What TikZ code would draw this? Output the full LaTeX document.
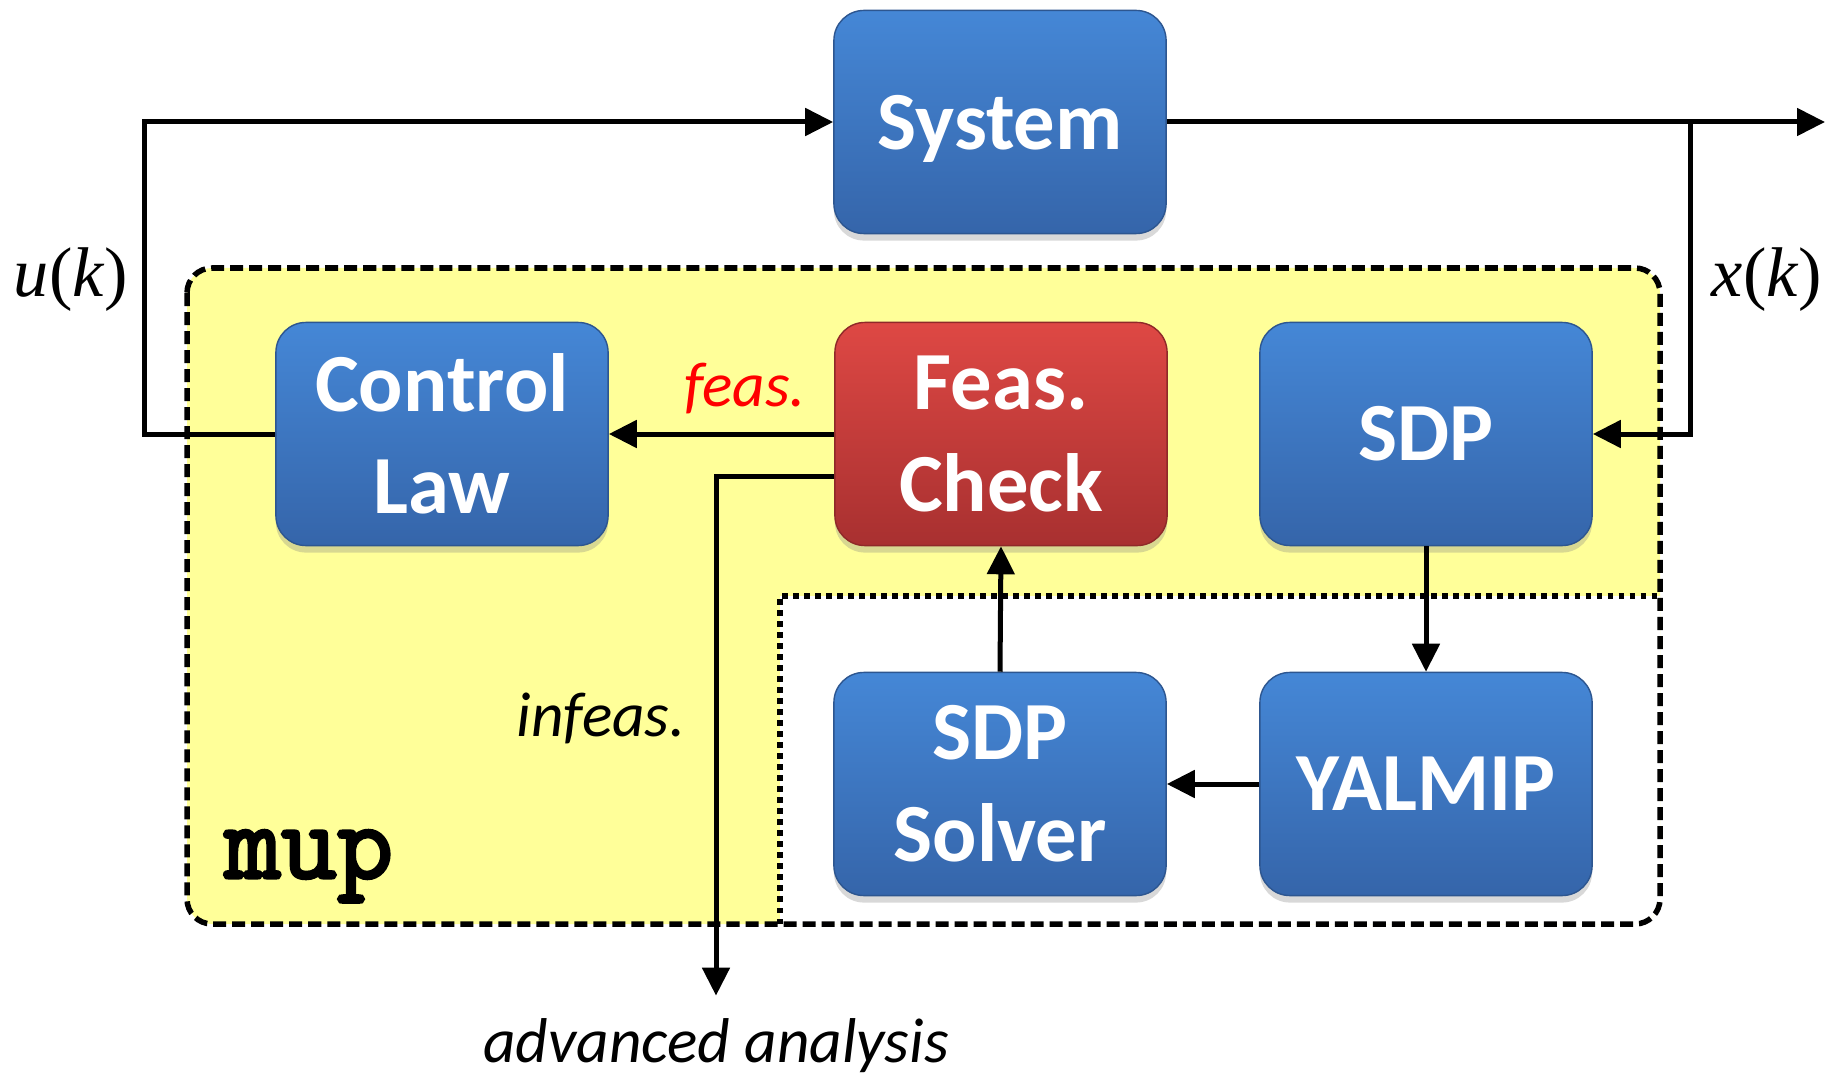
\documentclass[tikz,border=0pt]{standalone}
\usepackage{fontspec}
\setmainfont{Carlito}
\newfontfamily\timesfont{Liberation Serif}
\newfontfamily\mupfont{Latin Modern Mono}[FakeBold=3]
\usetikzlibrary{arrows.meta, positioning, shadows}

\definecolor{boxblueA}{RGB}{69,135,214}
\definecolor{boxblueB}{RGB}{53,101,170}
\definecolor{boxredA}{RGB}{222,72,68}
\definecolor{boxredB}{RGB}{168,48,48}
\definecolor{mupyellow}{RGB}{255,255,153}

\begin{document}
\begin{tikzpicture}[x=0.01cm,y=-0.01cm,
    blk/.style={rectangle, rounded corners=0.3cm, minimum width=3.32cm, minimum height=2.23cm,
        align=center, text=white, font=\fontsize{23.5}{29}\selectfont\bfseries,
        top color=boxblueA, bottom color=boxblueB, draw=boxblueB!85!black, line width=0.4pt,
        drop shadow={opacity=0.3, shadow xshift=0pt, shadow yshift=-0.07cm}},
    redblk/.style={blk, top color=boxredA, bottom color=boxredB, draw=boxredB!85!black},
    arr/.style={-{Triangle[length=0.28cm,width=0.27cm]}, line width=0.05cm},
    lbl/.style={font=\fontsize{18}{22}\selectfont\itshape}]
    \useasboundingbox (0,0) rectangle (1830,1073);
    \fill[mupyellow, rounded corners=0.25cm] (187,268) rectangle (1660,924);
    \begin{scope}
        \clip[rounded corners=0.25cm] (187,268) rectangle (1660,924);
        \fill[white] (780,596) rectangle (1660,924);
    \end{scope}
    \draw[line width=0.055cm, dash pattern=on 0.055cm off 0.055cm] (780,924) -- (780,596) -- (1660,596);
    \draw[line width=0.055cm, dash pattern=on 0.13cm off 0.06cm, rounded corners=0.25cm] (187,268) rectangle (1660,924);

    \node[blk, text depth=0pt] (sys) at (1000,122) {System};
    \node[blk] (ctrl) at (442,434) {Control\\Law};
    \node[redblk] (feas) at (1001,434) {Feas.\\Check};
    \node[blk] (sdp) at (1426,434) {SDP};
    \node[blk] (solver) at (1000,784) {SDP\\Solver};
    \node[blk] (yalmip) at (1426,784) {YALMIP};

    \coordinate (outpt) at (1825,122);
    \coordinate (tap) at (1690,122);

    \node[lbl, text=red] (feaslbl) at (745,389) {feas.};
    \node[lbl] (infeaslbl) at (601,718) {infeas.};
    \node[lbl, anchor=base] (adv) at (716,1062) {advanced analysis};
    \node[font=\timesfont\fontsize{20}{24}\selectfont] (uk) at (71,280) {\textit{u}(\textit{k})};
    \node[font=\timesfont\fontsize{20}{24}\selectfont] (xk) at (1767,280) {\textit{x}(\textit{k})};
    \node[anchor=base west, inner sep=0pt, font=\mupfont\fontsize{31}{34}\selectfont] (mup) at (224,878) {mup};

    \draw[arr] (feas.west) -- (ctrl.east);
    \draw[arr] (ctrl.west) -- ++(-131,0) |- (sys.west);
    \draw[arr] (sys.east) -- (outpt);
    \draw[arr] (tap) |- (sdp.east);
    \draw[arr] (sdp.south) -- (yalmip.north);
    \draw[arr] (yalmip.west) -- (solver.east);
    \draw[arr] (solver.north) -- (feas.south);
    \draw[arr, shorten >=0.1cm] ([yshift=-0.42cm]feas.west) -| (adv.north);
\end{tikzpicture}
\end{document}
